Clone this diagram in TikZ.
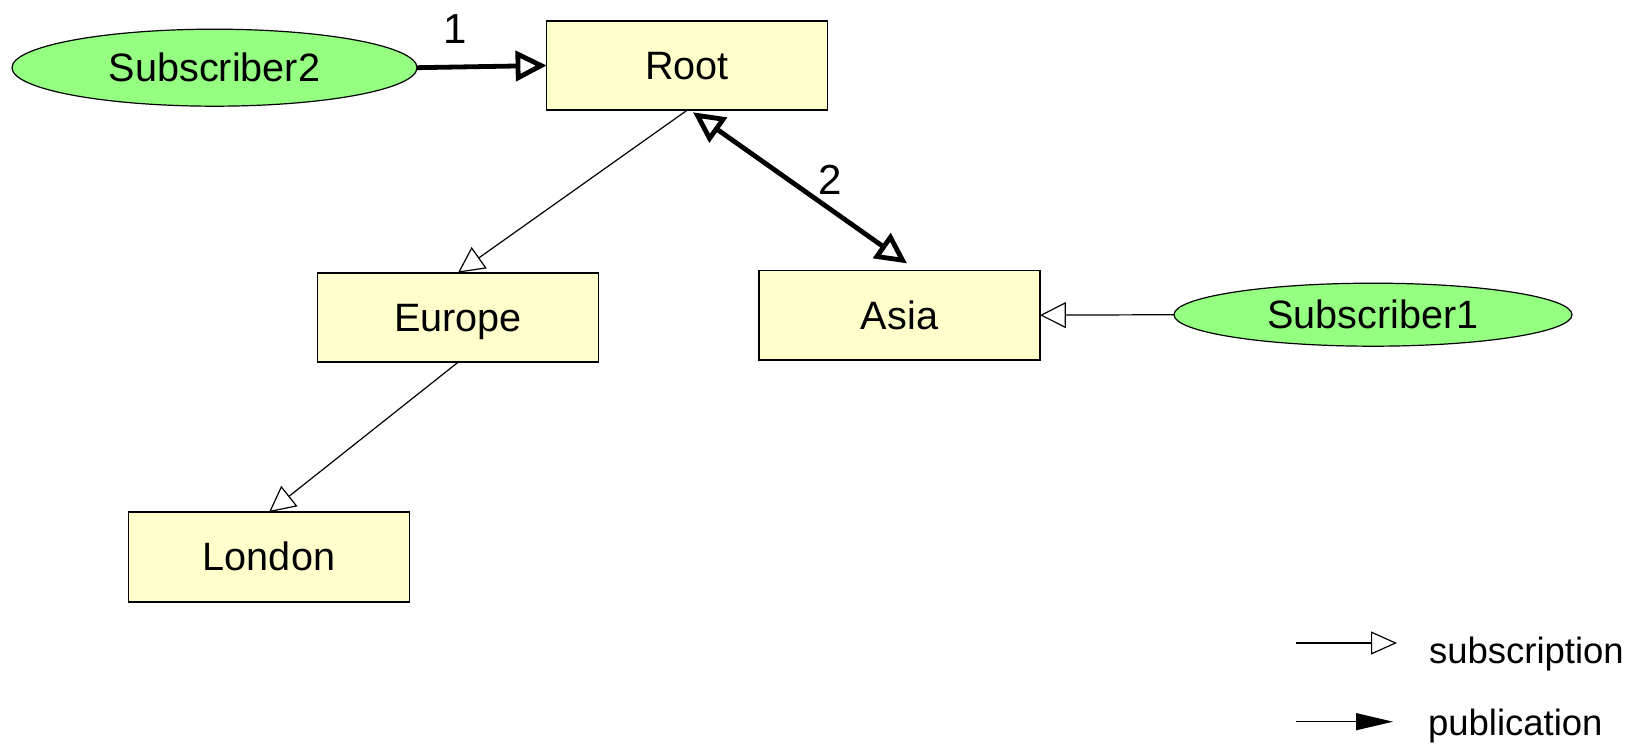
\documentclass[tikz,border=0pt]{standalone}
\usepackage{fontspec}
\setmainfont{Liberation Sans}
\usetikzlibrary{arrows.meta,shapes.geometric,calc}
\definecolor{topicfill}{RGB}{255,255,204}
\definecolor{clientfill}{RGB}{148,255,128}

\begin{document}
\begin{tikzpicture}[x=0.5pt,y=-0.5pt,
  every node/.style={inner sep=0pt, outer sep=0pt},
  labelfont/.style={font=\fontsize{19.8}{23}\selectfont, text height=14pt, text depth=0pt},
  topic/.style={draw, line width=0.85pt, fill=topicfill, labelfont,
    minimum width=140.4pt, minimum height=44.8pt},
  client/.style={ellipse, draw, line width=0.6pt, fill=clientfill, labelfont},
  subline/.style={line width=0.6pt, -{Triangle[open, length=13pt, width=13pt]}},
  publine/.style={line width=2.4pt, -{Triangle[open, length=15.5pt, width=15pt]}},
  stepnum/.style={font=\fontsize{21}{25}\selectfont},
  legendtext/.style={font=\fontsize{18.25}{22}\selectfont, anchor=base west}
]
\useasboundingbox (0,0) rectangle (1642,747);

% topic tree
\node[topic] (root)   at (687,65.5)  {Root};
\node[topic] (europe) at (458,317.5) {Europe};
\node[topic] (asia)   at (899.5,315.2) {Asia};
\node[topic] (london) at (269,557)   {London};

% subscribers
\node[client, minimum width=202.5pt, minimum height=38.5pt] (sub2) at (214.5,67.7) {Subscriber2};
\node[client, minimum width=199pt, minimum height=31.5pt] (sub1) at (1373,314.7) {Subscriber1};

% subscriptions along the tree
\draw[subline] (root.south) -- (europe.north);
\draw[subline] (europe.south) -- (london.north);
\draw[subline] (sub1.west) -- (asia.east);

% publication path
\draw[publine] (sub2.east) -- (root.west);
\coordinate (pa) at ($(root.south)+(6,2)$);
\coordinate (pb) at ($(asia.north)+(7.5,-7)$);
\draw[line width=2.4pt, {Triangle[open, length=15.5pt, width=15pt]}-{Triangle[open, length=15.5pt, width=15pt]}] (pa) -- (pb);

\node[stepnum] (n1) at (455,29.5) {1};
\node[stepnum] (n2) at (830.5,179.6) {2};

% legend
\coordinate (l1a) at (1296,643);
\coordinate (l1b) at (1397,643);
\draw[line width=0.6pt, -{Triangle[open, length=13pt, width=11.5pt]}] (l1a) -- (l1b);
\node[legendtext] (lsub) at (1429,663) {subscription};

\coordinate (l2a) at (1296,721.7);
\coordinate (l2b) at (1393,721.7);
\draw[line width=0.6pt, -{Triangle[length=18.5pt, width=8.5pt]}] (l2a) -- (l2b);
\node[legendtext] (lpub) at (1428,735) {publication};
\end{tikzpicture}
\end{document}
